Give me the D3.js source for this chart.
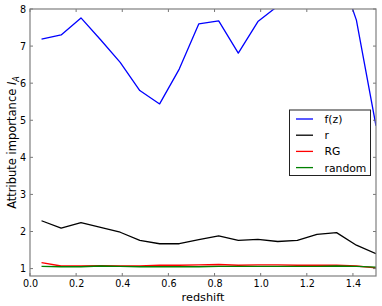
<!DOCTYPE html>
<html>
<head>
<meta charset="utf-8">
<script src="https://cdn.jsdelivr.net/npm/d3@7"></script>
<style>
body { margin:0; background:#fff; }
text { font-family: "DejaVu Sans", sans-serif; }
</style>
</head>
<body>
<div id="chart"></div>
<script>
(function(){

var redshift = [0.05,0.135,0.221,0.306,0.391,0.476,0.562,0.647,0.732,0.818,0.903,0.988,1.074,1.159,1.244,1.329,1.415,1.5]

var fz     = [7.19,7.30,7.76,7.17,6.56,5.80,5.44,6.38,7.60,7.68,6.81,7.66,8.08,8.6,8.9,9.25,7.7,4.85]
var r      = [2.29,2.09,2.24,2.11,1.98,1.76,1.67,1.67,1.78,1.88,1.76,1.79,1.73,1.76,1.92,1.97,1.63,1.40]
var rg     = [1.16,1.07,1.07,1.08,1.07,1.07,1.09,1.09,1.10,1.11,1.09,1.10,1.10,1.09,1.09,1.09,1.07,1.02]
var random = [1.06,1.05,1.05,1.07,1.06,1.05,1.05,1.05,1.05,1.06,1.06,1.06,1.06,1.06,1.06,1.07,1.06,1.04]

var series_names = ["f(z)","r","RG","random"]
var series_colors = ["#0000ff","#000000","#ff0000","#008000"]

var xticks = [0.0,0.2,0.4,0.6,0.8,1.0,1.2,1.4]
var yticks = [1,2,3,4,5,6,7,8]

var W = 382, H = 306
var margin = {top: 9, right: 6, bottom: 30, left: 30},
    width = W - margin.left - margin.right,
    height = H - margin.top - margin.bottom;

var svg = d3.select("#chart").append("svg")
	.attr("width",W)
	.attr("height",H)

var plot = svg.append("g")
	.attr("transform","translate(" + margin.left + "," + margin.top + ")");

var x = d3.scaleLinear().domain([0,1.5]).range([0, width]);
var y = d3.scaleLinear().domain([0.8,8]).range([height, 0]);
var fo = d3.format(".1f");

svg.append("defs").append("clipPath").attr("id","plotclip")
	.append("rect").attr("width",width).attr("height",height)

var data = [fz, r, rg, random].map(function(vals,k){
	return {name:series_names[k], color:series_colors[k],
		values: vals.map(function(v,i){return {z:redshift[i], v:v}})}
})

var line = d3.line().x(function(d){return x(d.z)}).y(function(d){return y(d.v)})

plot.append("g").attr("clip-path","url(#plotclip)")
	.selectAll(".series").data(data).enter()
	.append("path").attr("class","series")
	.attr("d",function(d){return line(d.values)})
	.style("fill","none")
	.style("stroke",function(d){return d.color})
	.style("stroke-width",1.3)
	.style("stroke-linejoin","round")

// ticks pointing inward on all four sides, like the classic matplotlib style
var tl = 3
plot.append("g").call(d3.axisBottom(x).tickValues(xticks).tickSize(0).tickFormat(fo).tickPadding(4))
	.attr("transform","translate(0," + height + ")")
	.call(function(g){g.select(".domain").remove()})
	.selectAll("text").style("font-size","9.6px").style("fill","#000")

plot.append("g").call(d3.axisLeft(y).tickValues(yticks).tickSize(0).tickFormat(d3.format("d")).tickPadding(4))
	.call(function(g){g.select(".domain").remove()})
	.selectAll("text").style("font-size","9.6px").style("fill","#000")

var tickg = plot.append("g").style("stroke","#555").style("stroke-width",0.8)
xticks.forEach(function(t){
	tickg.append("line").attr("x1",x(t)).attr("x2",x(t)).attr("y1",height).attr("y2",height-tl)
	tickg.append("line").attr("x1",x(t)).attr("x2",x(t)).attr("y1",0).attr("y2",tl)
})
yticks.forEach(function(t){
	tickg.append("line").attr("x1",0).attr("x2",tl).attr("y1",y(t)).attr("y2",y(t))
	tickg.append("line").attr("x1",width).attr("x2",width-tl).attr("y1",y(t)).attr("y2",y(t))
})

plot.append("rect").attr("width",width).attr("height",height)
	.style("fill","none").style("stroke","#7f7f7f").style("stroke-width",1.2)

plot.append("text").text("redshift")
	.attr("transform","translate(" + (width/2) + "," + (height+25) + ")")
	.style("text-anchor","middle")
	.style("font-size","11.3px")

var ylab = plot.append("text")
	.attr("transform","translate(-14," + (height/2) + ") rotate(-90)")
	.style("text-anchor","middle")
	.style("font-size","11.5px")
ylab.append("tspan").text("Attribute importance ")
ylab.append("tspan").text("I").style("font-style","italic")
ylab.append("tspan").text("A").style("font-style","italic").style("font-size","8px").attr("dy",3)

// legend
var leg = plot.append("g").attr("transform","translate(" + (259.5) + "," + (101) + ")")
leg.append("rect").attr("width",81).attr("height",65.5)
	.style("fill","#fff").style("stroke","#222").style("stroke-width",1)

var item = leg.selectAll(".legend").data(data).enter()
	.append("g").attr("class","legend")
	.attr("transform",function(d,i){return "translate(0," + (9 + i*16.2) + ")"})

item.append("line").attr("x1",6.5).attr("x2",23.5).attr("y1",0).attr("y2",0)
	.style("stroke",function(d){return d.color}).style("stroke-width",1.3)

item.append("text").text(function(d){return d.name})
	.attr("x",35).attr("y",4)
	.style("font-size","10.8px")

})()
</script>
</body>
</html>
